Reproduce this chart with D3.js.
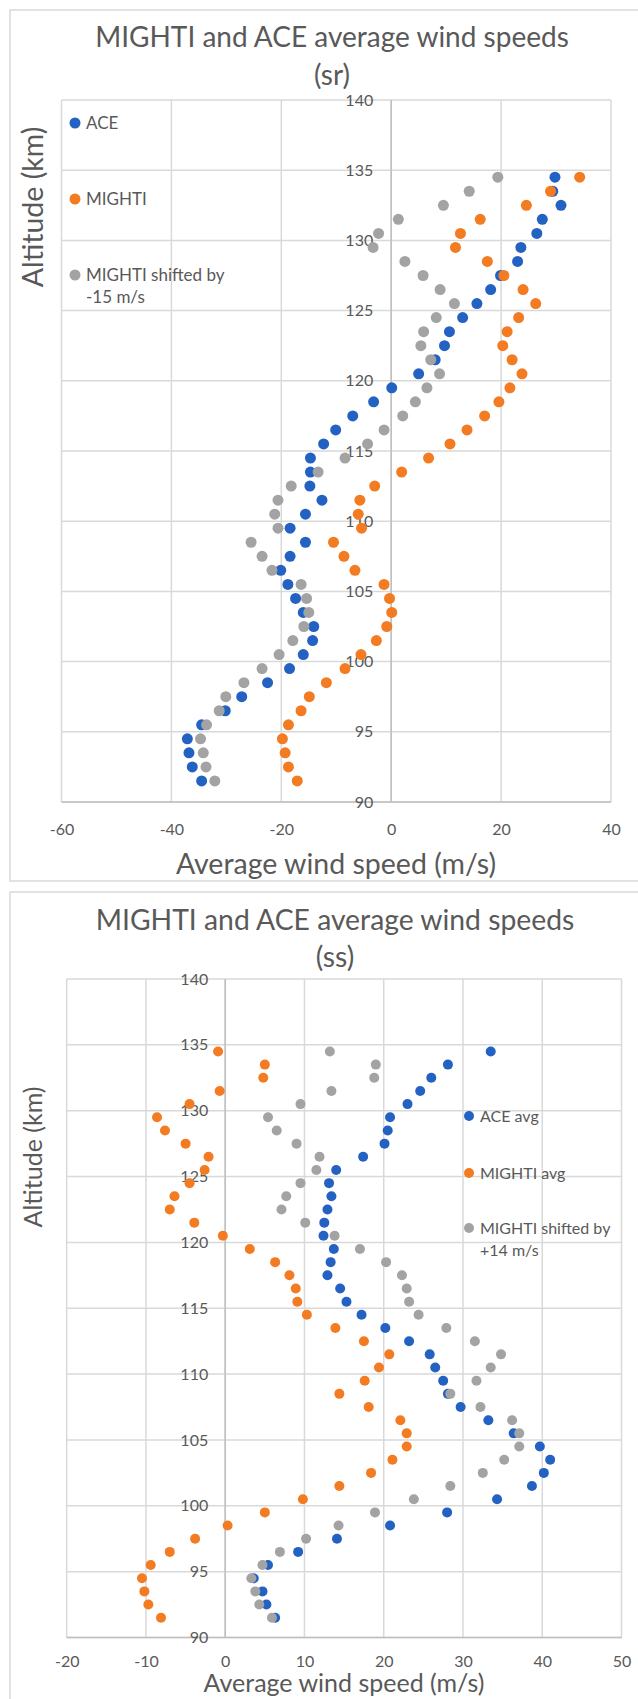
<!DOCTYPE html>
<html>
<head>
<meta charset="utf-8">
<script src="https://cdn.jsdelivr.net/npm/d3@7"></script>
<style>
  body { margin: 0; background: #fff; }
  text { font-family: Lato, "Open Sans", sans-serif; fill: #595959; }
</style>
</head>
<body>
<script>
// altitude of each point (km), shared by every series
var altitudes = [91.5, 92.5, 93.5, 94.5, 95.5, 96.5, 97.5, 98.5, 99.5, 100.5,
  101.5, 102.5, 103.5, 104.5, 105.5, 106.5, 107.5, 108.5, 109.5, 110.5,
  111.5, 112.5, 113.5, 114.5, 115.5, 116.5, 117.5, 118.5, 119.5, 120.5,
  121.5, 122.5, 123.5, 124.5, 125.5, 126.5, 127.5, 128.5, 129.5, 130.5,
  131.5, 132.5, 133.5, 134.5];

// sunrise (sr) wind speeds, m/s
var srAce = [-34.5, -36.2, -36.8, -37.1, -34.5, -30.2, -27.2, -22.5, -18.5, -16.0,
  -14.3, -14.1, -16.0, -17.4, -18.8, -20.1, -18.4, -15.6, -18.4, -15.6,
  -12.6, -14.8, -14.7, -14.7, -12.3, -10.1, -7.0, -3.2, 0.1, 5.0,
  8.0, 9.7, 10.6, 13.0, 15.6, 18.1, 19.9, 23.0, 23.6, 26.5,
  27.5, 30.9, 29.4, 29.8];
var srMighti = [-17.1, -18.7, -19.3, -19.8, -18.7, -16.4, -14.9, -11.8, -8.4, -5.5,
  -2.7, -0.8, 0.1, -0.3, -1.3, -6.6, -8.6, -10.5, -5.4, -6.0,
  -5.7, -3.0, 1.9, 6.8, 10.7, 13.8, 17.0, 19.6, 21.6, 23.8,
  22.0, 20.3, 21.1, 23.2, 26.3, 24.0, 20.5, 17.5, 11.7, 12.6,
  16.2, 24.6, 29.0, 34.3];
var srShifted = [-32.1, -33.7, -34.2, -34.7, -33.6, -31.3, -30.1, -26.8, -23.5, -20.4,
  -17.9, -15.9, -15.0, -15.4, -16.4, -21.7, -23.5, -25.5, -20.6, -21.2,
  -20.6, -18.2, -13.3, -8.4, -4.3, -1.3, 2.1, 4.4, 6.5, 8.8,
  7.2, 5.4, 5.9, 8.2, 11.5, 8.9, 5.8, 2.5, -3.3, -2.3,
  1.3, 9.5, 14.2, 19.4];

// sunset (ss) wind speeds, m/s
var ssAce = [6.3, 5.2, 4.7, 3.6, 5.4, 9.2, 14.1, 20.8, 28.0, 34.3,
  38.7, 40.2, 41.0, 39.7, 36.4, 33.2, 29.7, 28.1, 27.5, 26.5,
  25.8, 23.2, 20.2, 17.2, 15.3, 14.5, 12.9, 13.3, 13.7, 12.4,
  12.5, 12.9, 13.4, 13.1, 14.0, 17.4, 20.1, 20.5, 20.8, 23.0,
  24.6, 26.0, 28.1, 33.5];
var ssMighti = [-8.1, -9.7, -10.2, -10.5, -9.4, -7.0, -3.8, 0.3, 5.0, 9.8,
  14.4, 18.4, 21.1, 22.9, 22.9, 22.1, 18.1, 14.4, 17.6, 19.4,
  20.7, 17.5, 13.9, 10.3, 9.1, 8.9, 8.1, 6.3, 3.1, -0.3,
  -3.9, -7.0, -6.4, -4.5, -2.6, -2.1, -5.0, -7.6, -8.6, -4.5,
  -0.7, 4.8, 5.0, -0.9];
var ssShifted = [5.9, 4.3, 3.8, 3.3, 4.7, 6.9, 10.2, 14.3, 18.9, 23.8,
  28.4, 32.5, 35.2, 37.1, 37.1, 36.2, 32.2, 28.4, 31.7, 33.5,
  34.8, 31.5, 27.9, 24.4, 23.2, 22.9, 22.3, 20.3, 17.0, 13.8,
  10.1, 7.1, 7.7, 9.5, 11.5, 11.9, 9.0, 6.5, 5.4, 9.5,
  13.4, 18.8, 19.0, 13.2];

// tick labels
var srXTicks = [-60, -40, -20, 0, 20, 40];
var ssXTicks = [-20, -10, 0, 10, 20, 30, 40, 50];
var altTicks = [90, 95, 100, 105, 110, 115, 120, 125, 130, 135, 140];

var colors = ["#2362c2", "#f37b22", "#a3a3a3"];

var svg = d3.select("body").append("svg")
  .attr("width", 638)
  .attr("height", 1699);

// plain hyphen for negatives, like the original
var plain = function(d) { return String(d); };

function drawChart(c) {
  var g = svg.append("g");

  // chart frame (runs off the right side of the picture)
  g.append("rect")
    .attr("x", c.frame[0]).attr("y", c.frame[1])
    .attr("width", c.frame[2]).attr("height", c.frame[3])
    .attr("fill", "#fff").attr("stroke", "#d9d9d9").attr("stroke-width", 1.5);

  var x = d3.scaleLinear().domain(c.xDomain).range(c.xRange);
  var y = d3.scaleLinear().domain([90, 140]).range(c.yRange);

  // gridlines
  g.append("g").selectAll("line").data(c.xTicks).enter().append("line")
    .attr("x1", function(d) { return x(d); }).attr("x2", function(d) { return x(d); })
    .attr("y1", y(140)).attr("y2", y(90))
    .attr("stroke", "#d9d9d9").attr("stroke-width", 1.5);
  g.append("g").selectAll("line").data(altTicks).enter().append("line")
    .attr("x1", x(c.xDomain[0])).attr("x2", x(c.xDomain[1]))
    .attr("y1", function(d) { return y(d); }).attr("y2", function(d) { return y(d); })
    .attr("stroke", "#d9d9d9").attr("stroke-width", 1.5);

  // axis lines
  g.append("line")
    .attr("x1", x(0)).attr("x2", x(0)).attr("y1", y(140)).attr("y2", y(90))
    .attr("stroke", "#bfbfbf").attr("stroke-width", 1.5);
  g.append("line")
    .attr("x1", x(c.xDomain[0])).attr("x2", x(c.xDomain[1])).attr("y1", y(90)).attr("y2", y(90))
    .attr("stroke", "#bfbfbf").attr("stroke-width", 1.5);

  // y tick labels sit next to the x = 0 axis
  var yAxis = d3.axisLeft(y).tickValues(altTicks).tickFormat(plain).tickSize(0).tickPadding(c.yPad);
  g.append("g")
    .attr("transform", "translate(" + x(0) + ",0)")
    .call(yAxis)
    .call(function(s) { s.select(".domain").remove(); })
    .selectAll("text")
    .attr("font-size", c.tickSize).style("font-family", "Lato, 'Open Sans', sans-serif")
    .attr("fill", "#595959");

  var xAxis = d3.axisBottom(x).tickValues(c.xTicks).tickFormat(plain).tickSize(0).tickPadding(c.xPad);
  g.append("g")
    .attr("transform", "translate(0," + y(90) + ")")
    .call(xAxis)
    .call(function(s) { s.select(".domain").remove(); })
    .selectAll("text")
    .attr("font-size", c.tickSize).style("font-family", "Lato, 'Open Sans', sans-serif")
    .attr("fill", "#595959");

  // points: ACE first, then MIGHTI, then the shifted MIGHTI on top
  c.series.forEach(function(vals, si) {
    g.append("g").selectAll("circle").data(vals).enter().append("circle")
      .attr("cx", function(d) { return x(d); })
      .attr("cy", function(d, i) { return y(altitudes[i]); })
      .attr("r", c.r)
      .attr("fill", colors[si]);
  });

  // titles
  g.append("text")
    .attr("x", c.titleX).attr("y", c.titleY[0])
    .attr("text-anchor", "middle").attr("font-size", c.titleSize)
    .text("MIGHTI and ACE average wind speeds");
  g.append("text")
    .attr("x", c.titleX).attr("y", c.titleY[1])
    .attr("text-anchor", "middle").attr("font-size", c.titleSize)
    .text(c.subtitle);
  g.append("text")
    .attr("x", c.xTitle[0]).attr("y", c.xTitle[1])
    .attr("text-anchor", "middle").attr("font-size", c.axisTitleSize)
    .text("Average wind speed (m/s)");
  g.append("text")
    .attr("transform", "translate(" + c.yTitle[0] + "," + c.yTitle[1] + ") rotate(-90)")
    .attr("text-anchor", "middle").attr("font-size", c.yTitleSize)
    .text("Altitude (km)");

  // legend
  var lg = g.append("g");
  c.legend.forEach(function(lines, i) {
    var ly = c.legendY[i];
    lg.append("circle")
      .attr("cx", c.legendX).attr("cy", ly).attr("r", c.r)
      .attr("fill", colors[i]);
    lines.forEach(function(t, j) {
      lg.append("text")
        .attr("x", c.legendX + 11).attr("y", ly + 6 + j * 22)
        .attr("font-size", c.legendSize)
        .text(t);
    });
  });
}

drawChart({
  frame: [10, 10, 660, 871],
  xDomain: [-60, 40], xRange: [61.5, 611],
  yRange: [802, 100],
  xTicks: srXTicks,
  series: [srAce, srMighti, srShifted],
  r: 5.5,
  tickSize: 16, yPad: 18, xPad: 22,
  titleX: 332, titleY: [47, 85], titleSize: 28, subtitle: "(sr)",
  xTitle: [336, 874], axisTitleSize: 28.5,
  yTitle: [43, 207], yTitleSize: 28.5,
  legend: [["ACE"], ["MIGHTI"], ["MIGHTI shifted by", "-15 m/s"]],
  legendX: 75, legendY: [123, 199, 275], legendSize: 17
});

drawChart({
  frame: [10, 892, 660, 830],
  xDomain: [-20, 50], xRange: [66.7, 621.5],
  yRange: [1637.5, 979],
  xTicks: ssXTicks,
  series: [ssAce, ssMighti, ssShifted],
  r: 5,
  tickSize: 16, yPad: 17, xPad: 18,
  titleX: 335, titleY: [930, 967], titleSize: 28.3, subtitle: "(ss)",
  xTitle: [344, 1692], axisTitleSize: 25,
  yTitle: [42, 1157], yTitleSize: 25,
  legend: [["ACE avg"], ["MIGHTI avg"], ["MIGHTI shifted by", "+14 m/s"]],
  legendX: 469, legendY: [1116, 1173, 1228], legendSize: 16
});
</script>
</body>
</html>
